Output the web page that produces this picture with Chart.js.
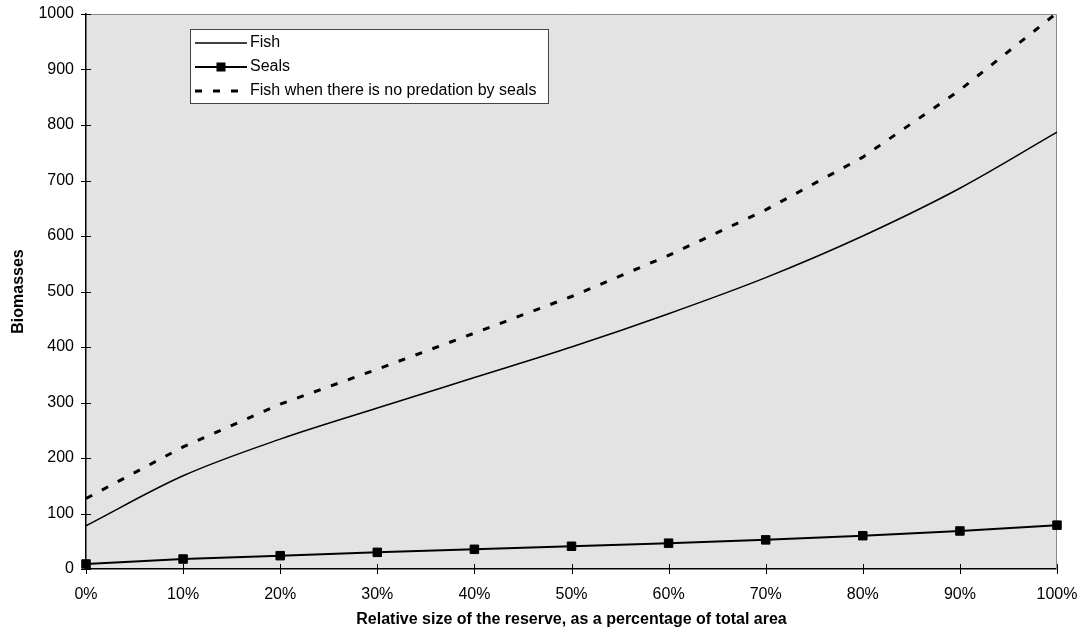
<!DOCTYPE html>
<html lang="en">
<head>
    <meta charset="UTF-8">
    <title>Biomasses vs reserve size</title>
    <script src="https://cdn.jsdelivr.net/npm/chart.js"></script>
    <style>
        body { margin: 0; background: #fff; }
        #wrap { width: 1083px; height: 637px; }
    </style>
</head>
<body>
    <div id="wrap"><canvas id="chart" width="1083" height="637"></canvas></div>

    <script>
        // Data
        const reserveLabels = ['0%', '10%', '20%', '30%', '40%', '50%', '60%', '70%', '80%', '90%', '100%'];
        const fishValues = [78, 168, 234, 290, 345, 400, 460, 525, 600, 686, 787];
        const sealValues = [9, 18, 24, 30, 35.5, 41, 46.5, 52.5, 60, 68.5, 79];
        const fishNoPredationValues = [127, 220, 297, 360, 425, 491, 565, 647, 742, 863, 1002];
        const yTickValues = [0, 100, 200, 300, 400, 500, 600, 700, 800, 900, 1000];

        const FONT = 'Arial, "Liberation Sans", sans-serif';
        Chart.defaults.font.family = FONT;
        Chart.defaults.font.size = 16;
        Chart.defaults.color = '#000';

        // grey plot area + grey top/right frame + cross ticks
        const plotFrame = {
            id: 'plotFrame',
            beforeDraw(chart) {
                const { ctx, chartArea: a } = chart;
                ctx.save();
                ctx.fillStyle = '#e3e3e3';
                ctx.fillRect(a.left, a.top, a.right - a.left, a.bottom - a.top);
                ctx.restore();
            },
            beforeDatasetsDraw(chart) {
                const { ctx, chartArea: a, scales } = chart;
                ctx.save();
                ctx.strokeStyle = '#8a8a8a';
                ctx.lineWidth = 1;
                ctx.beginPath();
                ctx.moveTo(a.left, a.top + 0.5);
                ctx.lineTo(a.right - 0.5, a.top + 0.5);
                ctx.lineTo(a.right - 0.5, a.bottom);
                ctx.stroke();

                ctx.strokeStyle = '#000';
                ctx.beginPath();
                scales.y.ticks.forEach((t, i) => {
                    const y = Math.round(scales.y.getPixelForTick(i)) + 0.5;
                    ctx.moveTo(a.left - 5, y);
                    ctx.lineTo(a.left + 5, y);
                });
                scales.x.ticks.forEach((t, i) => {
                    const x = Math.round(scales.x.getPixelForTick(i)) + 0.5;
                    ctx.moveTo(x, a.bottom - 5);
                    ctx.lineTo(x, a.bottom + 5);
                });
                ctx.stroke();
                ctx.restore();
            }
        };

        // boxed legend inside the plot, like the original
        const boxLegend = {
            id: 'boxLegend',
            afterDraw(chart) {
                const ctx = chart.ctx;
                const box = { x: 190.5, y: 29.5, w: 358, h: 74 };
                const rows = [43, 67, 91];
                ctx.save();
                ctx.fillStyle = '#fff';
                ctx.fillRect(box.x, box.y, box.w, box.h);
                ctx.strokeStyle = '#444';
                ctx.lineWidth = 1;
                ctx.strokeRect(box.x, box.y, box.w, box.h);

                chart.data.datasets.forEach((ds, i) => {
                    const y = rows[i];
                    ctx.strokeStyle = '#000';
                    ctx.lineWidth = ds.borderWidth;
                    ctx.setLineDash(ds.borderDash || []);
                    ctx.beginPath();
                    ctx.moveTo(195, y);
                    ctx.lineTo(ds.borderDash ? 240 : 247, y);
                    ctx.stroke();
                    ctx.setLineDash([]);
                    if (ds.pointRadius > 0) {
                        ctx.fillStyle = '#000';
                        ctx.fillRect(221 - 4.5, y - 4.5, 9, 9);
                    }
                    ctx.fillStyle = '#000';
                    ctx.font = '16px ' + FONT;
                    ctx.textBaseline = 'middle';
                    ctx.textAlign = 'left';
                    ctx.fillText(ds.label, 250, y);
                });
                ctx.restore();
            }
        };

        const ctx = document.getElementById('chart').getContext('2d');
        const biomassChart = new Chart(ctx, {
            type: 'line',
            data: {
                labels: reserveLabels,
                datasets: [
                    {
                        label: 'Fish',
                        data: fishValues,
                        borderColor: '#000',
                        borderWidth: 1.5,
                        pointRadius: 0,
                        cubicInterpolationMode: 'monotone'
                    },
                    {
                        label: 'Seals',
                        data: sealValues,
                        borderColor: '#000',
                        borderWidth: 2,
                        pointStyle: 'rect',
                        pointRadius: 6,
                        pointBorderWidth: 1,
                        pointBackgroundColor: '#000',
                        pointBorderColor: '#000',
                        clip: 8
                    },
                    {
                        label: 'Fish when there is no predation by seals',
                        data: fishNoPredationValues,
                        borderColor: '#000',
                        borderWidth: 3,
                        borderDash: [7, 11],
                        pointRadius: 0,
                        clip: 4
                    }
                ]
            },
            options: {
                responsive: false,
                animation: false,
                layout: { padding: { left: 0, top: 14, right: 26, bottom: 0 } },
                plugins: {
                    legend: { display: false },
                    tooltip: { enabled: false }
                },
                scales: {
                    x: {
                        offset: false,
                        grid: { display: false, drawTicks: false },
                        border: { display: true, color: '#000', width: 1.5 },
                        ticks: { padding: 16, maxRotation: 0, autoSkip: false },
                        title: {
                            display: true,
                            text: 'Relative size of the reserve, as a percentage of total area',
                            font: { weight: 'bold', size: 16 },
                            padding: { top: 0, bottom: 8 }
                        },
                        afterFit(scale) {
                            scale.height = 68;
                            scale.paddingLeft = 0;
                            scale.paddingRight = 0;
                        }
                    },
                    y: {
                        min: 0,
                        max: 1000,
                        grid: { display: false, drawTicks: false },
                        border: { display: true, color: '#000', width: 1.5 },
                        ticks: { padding: 12, callback: v => String(v) },
                        afterBuildTicks(scale) {
                            scale.ticks = yTickValues.map(v => ({ value: v }));
                        },
                        title: {
                            display: true,
                            text: 'Biomasses',
                            font: { weight: 'bold', size: 16 },
                            padding: { top: 9, bottom: 0 }
                        },
                        afterFit(scale) {
                            scale.width = 86;
                            scale.paddingTop = 0;
                            scale.paddingBottom = 0;
                        }
                    }
                }
            },
            plugins: [plotFrame, boxLegend]
        });
    </script>
</body>
</html>
